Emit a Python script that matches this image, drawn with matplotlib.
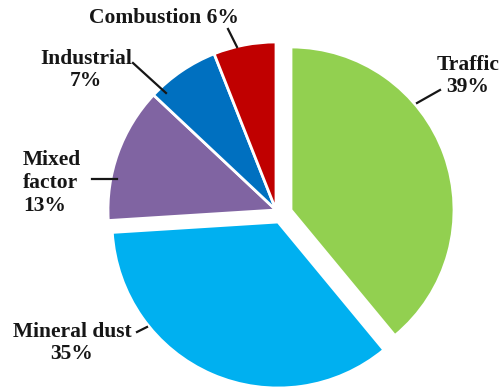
import matplotlib
matplotlib.use("Agg")
import matplotlib.pyplot as plt

categories = ["Traffic", "Mineral dust", "Mixed factor", "Industrial", "Combustion"]
values = [39, 35, 13, 7, 6]
colors = ["#92D050", "#00B0F0", "#8064A2", "#0070C0", "#C00000"]
label_texts = ["Traffic\n39%", "Mineral dust\n35%", "Mixed\nfactor\n13%", "Industrial\n7%", "Combustion 6%"]

W, H = 502, 389
fig = plt.figure(figsize=(W / 100, H / 100), dpi=100)
ax = fig.add_axes([0, 0, 1, 1])
ax.set_xlim(0, W)
ax.set_ylim(0, H)
ax.set_aspect("equal")
ax.axis("off")

def Y(y):
    return H - y

cx, cy, R = 276, 210, 168
wedges, _ = ax.pie(values, colors=colors, startangle=90, counterclock=False,
                   center=(cx, Y(cy)), radius=R,
                   wedgeprops=dict(edgecolor="white", linewidth=2))
# exploded slices
wedges[0].set_center((291, Y(210)))
wedges[0].set_radius(163)
wedges[1].set_center((278, Y(222)))
wedges[1].set_radius(166)

ax.set_xlim(0, W)
ax.set_ylim(0, H)

font = dict(family="Liberation Serif", fontweight="bold", fontsize=15.5, color="#161616")

# label positions (image px) and alignment
pos = [(468, 76, "center"), (72, 343, "center"), (23, 183, "left"), (86, 70, "center"), (164, 18, "center")]
for txt, (x, y, ha) in zip(label_texts, pos):
    ax.text(x, Y(y), txt, ha=ha, va="center", linespacing=1.18, **font)

leaders = [((417, 103), (440, 90)),
           ((137, 332), (147, 327)),
           ((92, 179), (117, 179)),
           ((133, 63), (166, 93)),
           ((228, 29), (237, 47))]
for (x0, y0), (x1, y1) in leaders:
    ax.plot([x0, x1], [Y(y0), Y(y1)], color="#161616", lw=1.6)

fig.savefig("out.png", dpi=100)
